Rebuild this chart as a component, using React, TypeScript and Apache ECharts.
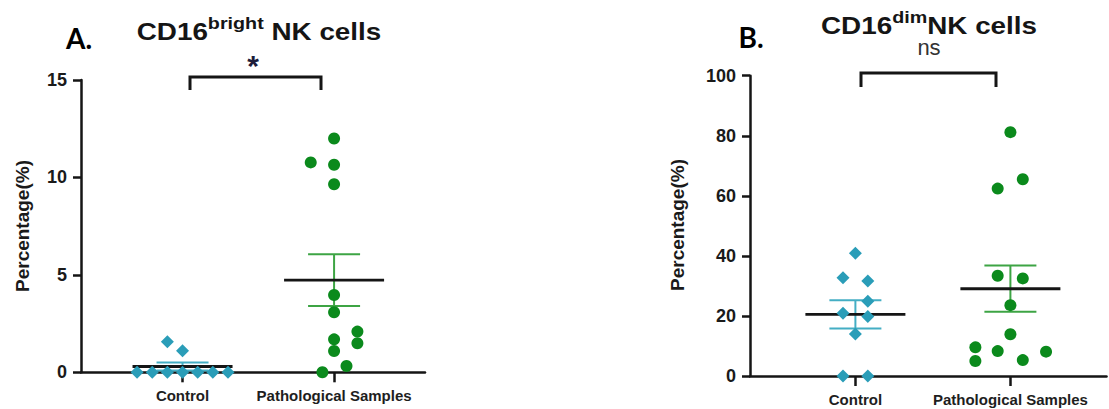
import React, { useEffect, useRef } from "react";
import * as echarts from "echarts";

// ---------- data ----------
const categories = ["Control", "Pathological Samples"];

// Panel A: CD16 bright NK cells (%)
const aControl = [0, 0, 0, 0, 0, 0, 0, 1.57, 1.1];
const aControlJitter = [-0.3, -0.2, -0.1, 0, 0.1, 0.2, 0.3, -0.1, 0];
const aPatho = [12.0, 10.77, 10.65, 9.65, 3.97, 3.08, 1.69, 1.09, 2.09, 1.49, 0.0, 0.32];
const aPathoJitter = [0, -0.154, 0, 0, 0, 0, 0, 0, 0.154, 0.154, -0.077, 0.082];
const aYTicks = [0, 5, 10, 15];

// Panel B: CD16 dim NK cells (%)
const bControl = [40.9, 32.7, 31.6, 24.9, 20.9, 19.8, 14.0, 0, 0];
const bControlJitter = [0, -0.08, 0.08, 0.08, -0.08, 0.08, 0, -0.08, 0.08];
const bPatho = [81.2, 62.4, 65.5, 33.4, 32.5, 23.6, 13.9, 9.55, 8.3, 5.0, 5.3, 8.1];
const bPathoJitter = [0, -0.082, 0.08, -0.082, 0.08, 0, 0, -0.226, -0.082, -0.226, 0.08, 0.23];
const bYTicks = [0, 20, 40, 60, 80, 100];

// ---------- styles ----------
const TEAL = "#2a9db8";
const GREEN = "#0b8a1c";
const TEAL_BAR = "#44aec4";
const GREEN_BAR = "#3da444";
const INK = "#151515";
const FONT = "Liberation Sans, Arial, sans-serif";

function meanSem(v: number[]) {
  const n = v.length;
  const m = v.reduce((a, b) => a + b, 0) / n;
  const sd = Math.sqrt(v.reduce((a, b) => a + (b - m) * (b - m), 0) / (n - 1));
  return [m, sd / Math.sqrt(n)];
}

function pts(values: number[], jitter: number[], center: number) {
  return values.map((v, i) => [center + jitter[i], v]);
}

function statsSeries(idx: number, groups: number[][], colors: string[]) {
  const data = groups.map((g, i) => {
    const [m, s] = meanSem(g);
    return [i + 1, m, s];
  });
  return {
    type: "custom",
    xAxisIndex: idx,
    yAxisIndex: idx,
    clip: false,
    z: 2,
    encode: { x: 0, y: 1 },
    data,
    renderItem: (params: any, api: any) => {
      const x = api.value(0);
      const m = api.value(1);
      const s = api.value(2);
      const c = api.coord([x, m]);
      const top = api.coord([x, m + s]);
      const bot = api.coord([x, m - s]);
      const col = colors[params.dataIndex];
      const mw = 50;
      const ww = 26;
      return {
        type: "group",
        children: [
          { type: "line", shape: { x1: c[0], y1: top[1], x2: c[0], y2: bot[1] }, style: { stroke: col, lineWidth: 2 } },
          { type: "line", shape: { x1: c[0] - ww, y1: top[1], x2: c[0] + ww, y2: top[1] }, style: { stroke: col, lineWidth: 2 } },
          { type: "line", shape: { x1: c[0] - ww, y1: bot[1], x2: c[0] + ww, y2: bot[1] }, style: { stroke: col, lineWidth: 2 } },
          { type: "line", shape: { x1: c[0] - mw, y1: c[1], x2: c[0] + mw, y2: c[1] }, style: { stroke: INK, lineWidth: 2.8 } },
        ],
      };
    },
  };
}

function xAxis(idx: number, min: number, max: number) {
  return {
    type: "value",
    gridIndex: idx,
    min,
    max,
    axisLine: { show: true, onZero: false, lineStyle: { color: INK, width: 2.5 } },
    axisTick: { show: true, customValues: [1, 2], length: 10, lineStyle: { color: INK, width: 2.5 } },
    axisLabel: {
      show: true,
      customValues: [1, 2],
      margin: 16,
      formatter: (v: number) => categories[Math.round(v) - 1] || "",
      fontFamily: FONT,
      fontWeight: "bold",
      fontSize: 15,
      color: "#1e1e1e",
    },
    splitLine: { show: false },
  };
}

function yAxis(idx: number, ticks: number[]) {
  return {
    type: "value",
    gridIndex: idx,
    min: ticks[0],
    max: ticks[ticks.length - 1],
    interval: ticks[1] - ticks[0],
    axisLine: { show: true, lineStyle: { color: INK, width: 2.5 } },
    axisTick: { show: true, length: 8, lineStyle: { color: INK, width: 2.5 } },
    axisLabel: { margin: 14, fontFamily: FONT, fontWeight: "bold", fontSize: 18, color: "#1a1a1a" },
    splitLine: { show: false },
  };
}

function titleText(x: number, y: number, sup: string, rest: string) {
  return {
    type: "text",
    x,
    y,
    scaleX: 1.16,
    style: {
      text: `{a|CD16}{s|${sup}}{a|${rest}}`,
      align: "center",
      verticalAlign: "middle",
      rich: {
        a: { fontSize: 24, fontWeight: "bold", fontFamily: FONT, fill: INK, lineHeight: 36 },
        s: { fontSize: 17, fontWeight: "bold", fontFamily: FONT, fill: INK, verticalAlign: "top", lineHeight: 18 },
      },
    },
  };
}

const pointStyle = (color: string) => ({ color, opacity: 1 });

export default function App() {
  const ref = useRef<HTMLDivElement>(null);
  useEffect(() => {
    if (!ref.current) return;
    const chart = echarts.init(ref.current, undefined, { renderer: "svg" });
    const option: any = {
      animation: false,
      backgroundColor: "#ffffff",
      grid: [
        { left: 81, top: 80, width: 344, height: 292.3, outerBoundsMode: "none" },
        { left: 750, top: 75.7, width: 356.5, height: 300.3, outerBoundsMode: "none" },
      ],
      xAxis: [xAxis(0, 0.33, 2.6), xAxis(1, 0.32, 2.62)],
      yAxis: [yAxis(0, aYTicks), yAxis(1, bYTicks)],
      series: [
        statsSeries(0, [aControl, aPatho], [TEAL_BAR, GREEN_BAR]),
        statsSeries(1, [bControl, bPatho], [TEAL_BAR, GREEN_BAR]),
        { type: "scatter", xAxisIndex: 0, yAxisIndex: 0, clip: false, z: 3, symbol: "diamond", symbolSize: 13, itemStyle: pointStyle(TEAL), data: pts(aControl, aControlJitter, 1) },
        { type: "scatter", xAxisIndex: 0, yAxisIndex: 0, clip: false, z: 3, symbol: "circle", symbolSize: 12, itemStyle: pointStyle(GREEN), data: pts(aPatho, aPathoJitter, 2) },
        { type: "scatter", xAxisIndex: 1, yAxisIndex: 1, clip: false, z: 3, symbol: "diamond", symbolSize: 13, itemStyle: pointStyle(TEAL), data: pts(bControl, bControlJitter, 1) },
        { type: "scatter", xAxisIndex: 1, yAxisIndex: 1, clip: false, z: 3, symbol: "circle", symbolSize: 12, itemStyle: pointStyle(GREEN), data: pts(bPatho, bPathoJitter, 2) },
      ],
      graphic: [
        { type: "text", x: 79, y: 38, style: { text: "A.", fontSize: 28, fontWeight: "bold", fontFamily: "Lato, Open Sans, sans-serif", fill: "#000", align: "center", verticalAlign: "middle" } },
        { type: "text", x: 751, y: 37, style: { text: "B.", fontSize: 28, fontWeight: "bold", fontFamily: "Lato, Open Sans, sans-serif", fill: "#000", align: "center", verticalAlign: "middle" } },
        titleText(259, 32, "bright", " NK cells"),
        titleText(929, 26, "dim", "NK cells"),
        { type: "text", x: 253, y: 65, style: { text: "*", fontSize: 30, fontWeight: "bold", fontFamily: FONT, fill: "#1c1c3a", align: "center", verticalAlign: "middle" } },
        { type: "text", x: 929, y: 47, style: { text: "ns", fontSize: 22, fontFamily: FONT, fill: "#333", align: "center", verticalAlign: "middle" } },
        { type: "polyline", shape: { points: [[190, 90], [190, 77], [321, 77], [321, 90]] }, style: { stroke: INK, lineWidth: 3, fill: "none" } },
        { type: "polyline", shape: { points: [[861, 87], [861, 73], [996, 73], [996, 87]] }, style: { stroke: INK, lineWidth: 3, fill: "none" } },
        { type: "text", x: 22, y: 226, rotation: Math.PI / 2, style: { text: "Percentage(%)", fontSize: 19, fontWeight: "bold", fontFamily: FONT, fill: "#1a1a1a", align: "center", verticalAlign: "middle" } },
        { type: "text", x: 677, y: 225, rotation: Math.PI / 2, style: { text: "Percentage(%)", fontSize: 19, fontWeight: "bold", fontFamily: FONT, fill: "#1a1a1a", align: "center", verticalAlign: "middle" } },
      ],
    };
    chart.setOption(option);
    return () => chart.dispose();
  }, []);
  return <div ref={ref} style={{ position: "fixed", left: 0, top: 0, width: 1109, height: 409 }} />;
}
